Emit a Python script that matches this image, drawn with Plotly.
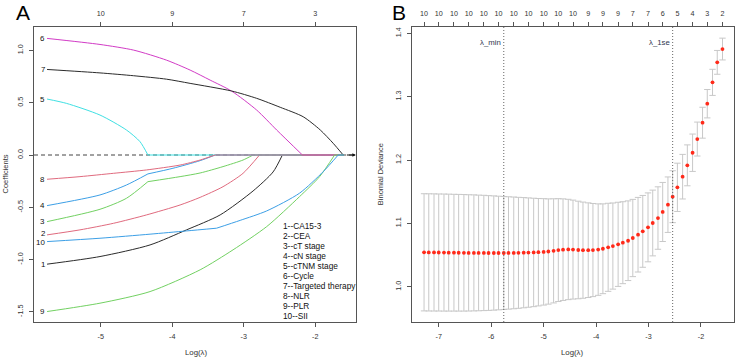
import plotly.graph_objects as go

W, H = 735, 357
FONT = "Liberation Sans, Arial, Helvetica, sans-serif"

# ---------------- Panel A: LASSO coefficient paths ----------------
var_names = ["CA15-3", "CEA", "cT stage", "cN stage", "cTNM stage", "Cycle",
             "Targeted therapy", "NLR", "PLR", "SII"]
path_colors = ["#2b2b2b", "#E06A7E", "#72D162", "#3C9FE6", "#3FE0E3", "#D23CC6",
               "#2b2b2b", "#E06A7E", "#72D162", "#3C9FE6"]

p1_x = [-5.75, -5.01, -4.31, -3.80, -3.33, -2.87, -2.59, -2.46]
p1_y = [-1.044, -0.971, -0.860, -0.716, -0.573, -0.344, -0.162, 0.0]
p2_x = [-5.75, -5.29, -4.82, -4.36, -3.89, -3.61, -3.29, -3.01, -2.78]
p2_y = [-0.764, -0.716, -0.653, -0.573, -0.478, -0.405, -0.303, -0.175, 0.0]
p3_x = [-5.75, -5.01, -4.64, -4.34, -3.89, -3.61, -3.29, -3.01, -2.87]
p3_y = [-0.637, -0.519, -0.414, -0.255, -0.207, -0.172, -0.111, -0.048, 0.0]
p4_x = [-5.75, -5.01, -4.64, -4.34, -3.99, -3.61, -3.40]
p4_y = [-0.484, -0.382, -0.287, -0.181, -0.127, -0.054, 0.0]
p5_x = [-5.75, -5.48, -5.01, -4.64, -4.45, -4.34]
p5_y = [0.535, 0.494, 0.382, 0.239, 0.127, 0.0]
p6_x = [-5.75, -5.01, -4.54, -4.08, -3.75, -3.47, -3.17, -2.82, -2.54, -2.18]
p6_y = [1.115, 1.057, 1.003, 0.907, 0.812, 0.716, 0.611, 0.430, 0.239, 0.0]
p7_x = [-5.75, -5.01, -4.54, -4.08, -3.75, -3.17, -2.82, -2.49, -2.17, -1.93, -1.75, -1.61]
p7_y = [0.818, 0.785, 0.758, 0.725, 0.685, 0.612, 0.542, 0.456, 0.366, 0.239, 0.112, 0.0]
p8_x = [-5.75, -5.29, -4.82, -4.36, -3.89, -3.61, -3.40]
p8_y = [-0.232, -0.207, -0.175, -0.143, -0.096, -0.048, 0.0]
p9_x = [-5.75, -5.01, -4.31, -3.61, -3.15, -2.68, -2.22, -1.94, -1.73]
p9_y = [-1.497, -1.417, -1.306, -1.098, -0.907, -0.685, -0.398, -0.207, 0.0]
p10_x = [-5.75, -5.01, -4.31, -3.80, -3.38, -3.05, -2.68, -2.22, -1.89, -1.68]
p10_y = [-0.828, -0.796, -0.757, -0.726, -0.700, -0.625, -0.535, -0.365, -0.160, 0.0]

paths_x = [p1_x, p2_x, p3_x, p4_x, p5_x, p6_x, p7_x, p8_x, p9_x, p10_x]
paths_y = [p1_y, p2_y, p3_y, p4_y, p5_y, p6_y, p7_y, p8_y, p9_y, p10_y]
# index of a sharp bend (a variable leaving the model) in each path, or None
path_kink = [None, None, 3, 3, None, None, None, None, None, 4]
a_last_loglambda = -1.60

a_xticks = [-5, -4, -3, -2]
a_xticklabels = ["-5", "-4", "-3", "-2"]
a_yticks = [-1.5, -1.0, -0.5, 0.0, 0.5, 1.0]
a_yticklabels = ["-1.5", "-1.0", "-0.5", "0.0", "0.5", "1.0"]
a_top_labels = ["10", "9", "7", "3"]

# ---------------- Panel B: cross-validation curve ----------------
log_lambda = [-7.28, -7.19, -7.09, -7.00, -6.90, -6.81, -6.71, -6.62, -6.52, -6.43,
              -6.33, -6.24, -6.14, -6.05, -5.95, -5.86, -5.76, -5.67, -5.57, -5.48,
              -5.38, -5.29, -5.19, -5.10, -5.00, -4.91, -4.81, -4.72, -4.63, -4.53,
              -4.44, -4.34, -4.25, -4.15, -4.06, -3.96, -3.87, -3.77, -3.68, -3.58,
              -3.49, -3.39, -3.30, -3.20, -3.11, -3.01, -2.92, -2.82, -2.73, -2.63,
              -2.54, -2.45, -2.35, -2.26, -2.16, -2.07, -1.97, -1.88, -1.78, -1.69,
              -1.59]
cv_mean = [1.0543, 1.0542, 1.0541, 1.0540, 1.0539, 1.0538, 1.0537, 1.0536, 1.0535, 1.0534,
           1.0534, 1.0533, 1.0533, 1.0532, 1.0532, 1.0532, 1.0532, 1.0533, 1.0534, 1.0535,
           1.0537, 1.0539, 1.0541, 1.0545, 1.0550, 1.0556, 1.0566, 1.0578, 1.0585, 1.0588,
           1.0586, 1.0580, 1.0577, 1.0577, 1.0579, 1.0586, 1.0599, 1.0622, 1.0642, 1.0669,
           1.0695, 1.0726, 1.0769, 1.0821, 1.0874, 1.0937, 1.1006, 1.1084, 1.1180, 1.1295,
           1.1421, 1.1569, 1.1737, 1.1916, 1.2115, 1.2331, 1.2589, 1.2889, 1.3226, 1.3542,
           1.3752]
cv_sd = [0.0925, 0.0925, 0.0925, 0.0924, 0.0924, 0.0923, 0.0922, 0.0921, 0.0920, 0.0918,
         0.0916, 0.0913, 0.0910, 0.0906, 0.0902, 0.0897, 0.0892, 0.0887, 0.0882, 0.0876,
         0.0870, 0.0863, 0.0856, 0.0848, 0.0840, 0.0831, 0.0822, 0.0812, 0.0802, 0.0792,
         0.0781, 0.0770, 0.0759, 0.0747, 0.0735, 0.0722, 0.0709, 0.0695, 0.0680, 0.0664,
         0.0647, 0.0629, 0.0610, 0.0589, 0.0567, 0.0544, 0.0519, 0.0493, 0.0466, 0.0438,
         0.0410, 0.0381, 0.0352, 0.0323, 0.0295, 0.0268, 0.0244, 0.0224, 0.0206, 0.0188,
         0.0172]
nzero_top_labels = ["10", "10", "10", "10", "10", "10", "10", "10", "10", "10", "10",
                    "9", "9", "9", "7", "7", "6", "5", "4", "3", "2"]
idx_min = 16
idx_1se = 50

b_xticks = [-7, -6, -5, -4, -3, -2]
b_xticklabels = ["-7", "-6", "-5", "-4", "-3", "-2"]
b_yticks = [1.0, 1.1, 1.2, 1.3, 1.4]
b_yticklabels = ["1.0", "1.1", "1.2", "1.3", "1.4"]

# ---------------- figure ----------------
fig = go.Figure()

def add_path(xs, ys, col):
    fig.add_trace(go.Scatter(x=xs, y=ys, mode="lines",
                             line=dict(color=col, width=1, shape="spline", smoothing=0.7),
                             xaxis="x", yaxis="y", hoverinfo="skip"))

# Panel A traces (drawn in variable order, each with its zero tail)
for k in range(10):
    col = path_colors[k]
    kk = path_kink[k]
    if kk is None:
        add_path(paths_x[k], paths_y[k], col)
    else:
        add_path(paths_x[k][:kk + 1], paths_y[k][:kk + 1], col)
        add_path(paths_x[k][kk:], paths_y[k][kk:], col)
    fig.add_trace(go.Scatter(x=[paths_x[k][-1], a_last_loglambda], y=[0, 0], mode="lines",
                             line=dict(color=col, width=1),
                             xaxis="x", yaxis="y", hoverinfo="skip"))

# invisible helpers so the top (count) axes get drawn
fig.add_trace(go.Scatter(x=a_xticks, y=[0] * len(a_xticks), mode="markers",
                         marker=dict(opacity=0), xaxis="x3", yaxis="y", hoverinfo="skip"))
fig.add_trace(go.Scatter(x=log_lambda[::3], y=cv_mean[::3], mode="markers",
                         marker=dict(opacity=0), xaxis="x4", yaxis="y2", hoverinfo="skip"))

# Panel B trace
fig.add_trace(go.Scatter(x=log_lambda, y=cv_mean, mode="markers",
                         marker=dict(color="#FF2A1A", size=3.8, line=dict(width=0)),
                         error_y=dict(type="data", array=cv_sd, visible=True,
                                      color="#C8C8C8", thickness=1, width=3.2),
                         xaxis="x2", yaxis="y2", hoverinfo="skip"))

# pixel geometry
A_L, A_R, TOP, BOT = 34, 356, 27, 322
B_L, B_R = 412.3, 733.5
def fx(px):
    return px / W
def fy(py):
    return 1 - py / H

axis_common = dict(showgrid=False, zeroline=False, showline=True, linecolor="#555555",
                   linewidth=1, ticks="outside", ticklen=4, tickcolor="#555555",
                   tickfont=dict(family=FONT, size=7.2, color="#333333"), mirror=True,
                   ticklabelstandoff=3, automargin=False)
top_common = dict(showgrid=False, zeroline=False, showline=False, ticks="outside",
                  ticklen=4, tickcolor="#555555", tickangle=0,
                  tickfont=dict(family=FONT, size=7.2, color="#333333"),
                  ticklabelstandoff=3, automargin=False)

fig.update_layout(
    width=W, height=H, margin=dict(l=0, r=0, t=0, b=0),
    paper_bgcolor="white", plot_bgcolor="white", showlegend=False,
    xaxis=dict(domain=[fx(A_L), fx(A_R)], range=[-5.9325, -1.431], anchor="y",
               tickvals=a_xticks, ticktext=a_xticklabels, **axis_common),
    yaxis=dict(domain=[fy(BOT), fy(TOP)], range=[-1.597, 1.224], anchor="x",
               tickvals=a_yticks, ticktext=a_yticklabels, tickangle=-90, **axis_common),
    xaxis3=dict(overlaying="x", side="top", anchor="y", range=[-5.9325, -1.431],
                tickvals=a_xticks, ticktext=a_top_labels, **top_common),
    xaxis2=dict(domain=[fx(B_L), fx(B_R)], range=[-7.504, -1.380], anchor="y2",
                tickvals=b_xticks, ticktext=b_xticklabels, **axis_common),
    yaxis2=dict(domain=[fy(BOT), fy(TOP)], range=[0.9443, 1.41], anchor="x2",
                tickvals=b_yticks, ticktext=b_yticklabels, tickangle=-90, **axis_common),
    xaxis4=dict(overlaying="x2", side="top", anchor="y2", range=[-7.504, -1.380],
                tickvals=log_lambda[::3], ticktext=nzero_top_labels, **top_common),
)

# dashed zero line in A
fig.add_shape(type="line", xref="x domain", yref="y", x0=0, x1=1, y0=0, y1=0,
              line=dict(color="#444444", width=1, dash="4px,3px"), layer="below")

# vertical dotted lines in B
for idx in (idx_min, idx_1se):
    fig.add_shape(type="line", xref="x2", yref="y2 domain", x0=log_lambda[idx],
                  x1=log_lambda[idx], y0=0, y1=1,
                  line=dict(color="#666666", width=1, dash="1px,2px"))

annotations = []
# arrow at right end of zero line
annotations.append(dict(x=-1.433, y=0, xref="x", yref="y", ax=-1.58, ay=0, axref="x",
                        ayref="y", showarrow=True, arrowhead=2, arrowsize=0.7,
                        arrowwidth=1, arrowcolor="#111111", text=""))
# variable number labels at left of A
label_yshift = [0, 1, 0, 0, 0, 0, 0, 0, 0, -1]
for k in range(10):
    annotations.append(dict(x=paths_x[k][0], y=paths_y[k][0], xref="x", yref="y",
                            text=str(k + 1), showarrow=False, xanchor="right",
                            xshift=-1.5, yshift=label_yshift[k], yanchor="middle",
                            borderpad=0,
                            font=dict(family=FONT, size=7.9, color="#111111")))
# legend text block in A
leg_x = -2.470
for k in range(10):
    annotations.append(dict(x=leg_x, y=(155 - (226 + 10 * k)) / 104.56, xref="x", yref="y",
                            text=f"{k + 1}--{var_names[k]}", showarrow=False,
                            xanchor="left", yanchor="middle", borderpad=0,
                            font=dict(family=FONT, size=8.3, color="#111111")))
# lambda labels in B
for idx, lab in ((idx_min, "λ_min"), (idx_1se, "λ_1se")):
    annotations.append(dict(x=log_lambda[idx], y=1.386, xref="x2", yref="y2", text=lab,
                            showarrow=False, xanchor="right", yanchor="middle", xshift=-1,
                            font=dict(family=FONT, size=7.8, color="#2E3650")))
# axis titles and panel letters
def paper_text(px, py, text, size, angle=0, color="#333333", yanchor="middle"):
    return dict(x=fx(px), y=fy(py), xref="paper", yref="paper", text=text,
                textangle=angle, showarrow=False, xanchor="center", yanchor=yanchor,
                borderpad=0, font=dict(family=FONT, size=size, color=color))

annotations += [
    paper_text(5, 174.5, "Coefficients", 7.5, -90),
    paper_text(196, 352, "Log(λ)", 7.8),
    paper_text(380.7, 174.5, "Binomial Deviance", 7.5, -90),
    paper_text(572.7, 352, "Log(λ)", 7.8),
    paper_text(23, 0.5, "A", 21, 0, "#000000", "top"),
    paper_text(399, 0.5, "B", 21, 0, "#000000", "top"),
]
fig.update_layout(annotations=annotations)

fig.write_html("out.html")
